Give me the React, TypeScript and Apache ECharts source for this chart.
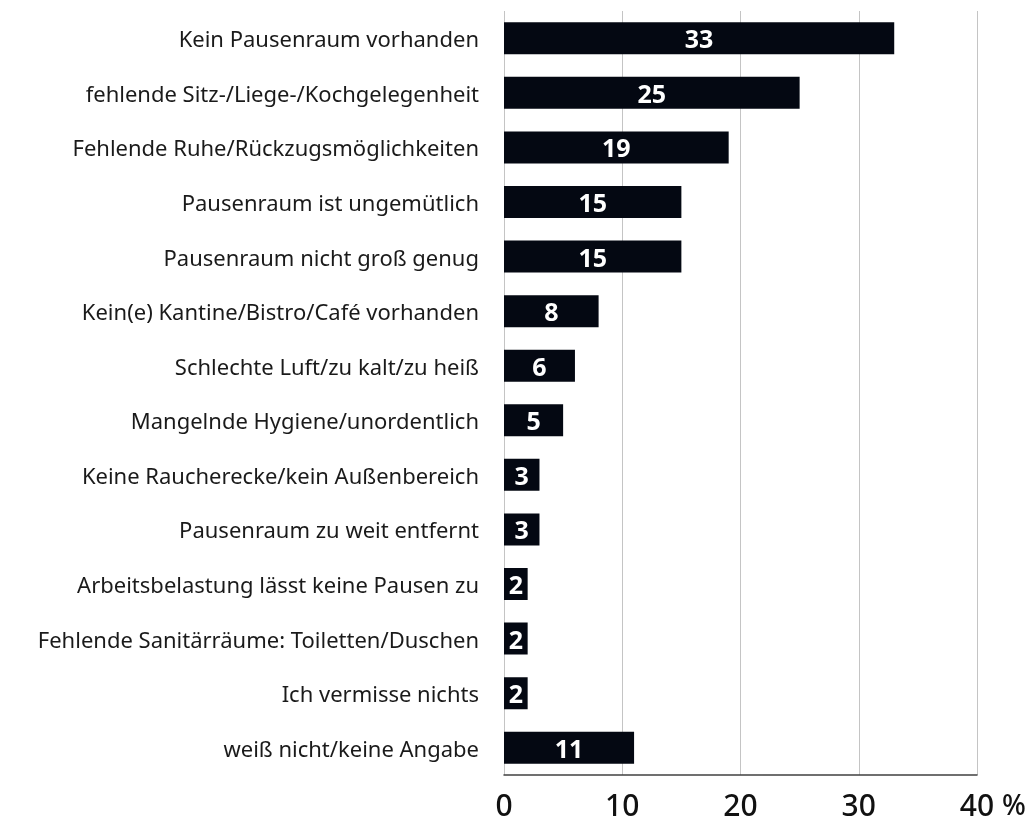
import React, { useEffect, useRef } from "react";
import * as echarts from "echarts";

const categories = [
  "Kein Pausenraum vorhanden",
  "fehlende Sitz-/Liege-/Kochgelegenheit",
  "Fehlende Ruhe/Rückzugsmöglichkeiten",
  "Pausenraum ist ungemütlich",
  "Pausenraum nicht groß genug",
  "Kein(e) Kantine/Bistro/Café vorhanden",
  "Schlechte Luft/zu kalt/zu heiß",
  "Mangelnde Hygiene/unordentlich",
  "Keine Raucherecke/kein Außenbereich",
  "Pausenraum zu weit entfernt",
  "Arbeitsbelastung lässt keine Pausen zu",
  "Fehlende Sanitärräume: Toiletten/Duschen",
  "Ich vermisse nichts",
  "weiß nicht/keine Angabe",
];
const values = [33, 25, 19, 15, 15, 8, 6, 5, 3, 3, 2, 2, 2, 11];
const xTicks = [0, 10, 20, 30, 40];
const unit = "%";

export default function App() {
  const ref = useRef<HTMLDivElement>(null);
  useEffect(() => {
    if (!ref.current) return;
    const chart = echarts.init(ref.current, undefined, { renderer: "svg" });
    chart.setOption({
      animation: false,
      grid: { left: 504, right: 55, top: 11, bottom: 58, containLabel: false },
      xAxis: {
        type: "value",
        min: xTicks[0],
        max: xTicks[xTicks.length - 1],
        interval: 10,
        axisLine: { show: true, lineStyle: { color: "#404040", width: 1.5 } },
        axisTick: { show: false },
        splitLine: { show: true, lineStyle: { color: "#c4c4c4", width: 1 } },
        axisLabel: {
          color: "#111111",
          fontFamily: "Noto Sans",
          fontSize: 30,
          fontWeight: 500,
          margin: 14,
        },
      },
      yAxis: {
        type: "category",
        data: categories,
        inverse: true,
        axisLine: { show: false },
        axisTick: { show: false },
        axisLabel: {
          color: "#1a1a1a",
          fontFamily: "Noto Sans",
          fontSize: 22,
          margin: 25,
        },
      },
      series: [
        {
          type: "bar",
          data: values,
          barWidth: 32,
          itemStyle: { color: "#040812" },
          label: {
            show: true,
            position: "inside",
            color: "#ffffff",
            fontFamily: "Noto Sans",
            fontWeight: "bold",
            fontSize: 25,
          },
        },
      ],
      graphic: [
        {
          type: "text",
          left: 1002,
          top: 790,
          style: {
            text: unit,
            fill: "#111111",
            font: "500 28px 'Noto Sans'",
          },
        },
      ],
    });
    return () => chart.dispose();
  }, []);
  return (
    <div
      ref={ref}
      style={{ position: "fixed", left: 0, top: 0, width: 1032, height: 833 }}
    />
  );
}
